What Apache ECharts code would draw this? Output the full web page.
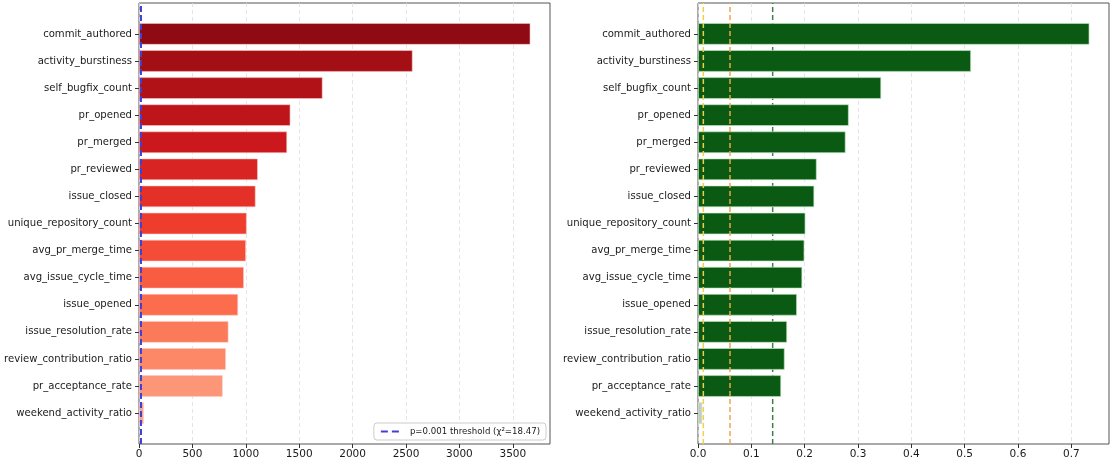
<!DOCTYPE html>
<html>
<head>
<meta charset="utf-8">
<script src="https://cdn.jsdelivr.net/npm/echarts@6/dist/echarts.min.js"></script>
<style>
html,body{margin:0;padding:0;background:#fff;}
#chart{width:1112px;height:463px;}
</style>
</head>
<body>
<div id="chart"></div>
<script>
// ---- data ----
const categories = ['commit_authored','activity_burstiness','self_bugfix_count','pr_opened','pr_merged','pr_reviewed','issue_closed','unique_repository_count','avg_pr_merge_time','avg_issue_cycle_time','issue_opened','issue_resolution_rate','review_contribution_ratio','pr_acceptance_rate','weekend_activity_ratio'];
const chi2Values = [3665, 2562, 1719, 1418, 1387, 1113, 1092, 1009, 1002, 982, 928, 838, 814, 784, 45];
const effectValues = [0.734, 0.512, 0.3435, 0.2827, 0.2768, 0.2226, 0.218, 0.2015, 0.1995, 0.1955, 0.1856, 0.1671, 0.1625, 0.1559, 0.008];
const chi2Threshold = 18.47;
const effectThresholds = [0.01, 0.06, 0.14];
const leftTicks = [0, 500, 1000, 1500, 2000, 2500, 3000, 3500];
const rightTicks = [0, 0.1, 0.2, 0.3, 0.4, 0.5, 0.6, 0.7];
const legendLabel = 'p=0.001 threshold (χ²=18.47)';

// ---- styles ----
const redsStops = ['#fff5f0','#fee0d2','#fcbba1','#fc9272','#fb6a4a','#ef3b2c','#cb181d','#a50f15','#67000d'];
function reds(t){
  const p = t*(redsStops.length-1), i = Math.min(Math.floor(p), redsStops.length-2), f = p-i;
  const a = redsStops[i], b = redsStops[i+1];
  const c = k => Math.round(parseInt(a.substr(k,2),16)*(1-f)+parseInt(b.substr(k,2),16)*f);
  return 'rgb('+c(1)+','+c(3)+','+c(5)+')';
}
const n = categories.length;
const redColors = categories.map((_, i) => reds(0.92 - 0.6*i/(n-1)));
const greenColor = '#0b5a14';
const grayColor = '#c8c8c8';
const thresholdColors = ['#f3cf45', '#eba64a', '#3f7f45'];
const thresholdZ = [5, 5, 1];

const plotTop = 3, plotH = 441, plotW = 411;
const bandH = plotH / (n - 1 + 0.8 + 2*0.05*(n - 1 + 0.8));
const innerTop = plotTop + (0.4 + 0.05*(n-0.2))*bandH - 0.5*bandH;
const innerH = bandH * n;
const panels = [{left:139}, {left:698}];

const leftMax = Math.max(...chi2Values)*1.05;
const rightMax = Math.max(...effectValues)*1.05;

const txt = '#1a1a1a';
function outerX(gi, max, ticks, fmt){
  return {
    type:'value', gridIndex:gi, min:0, max:max,
    axisLine:{show:false},
    axisTick:{show:true, length:4, lineStyle:{color:'#333', width:1}, customValues:ticks},
    axisLabel:{color:txt, fontSize:10.5, fontFamily:'DejaVu Sans', margin:5, customValues:ticks, formatter:fmt},
    splitLine:{show:true, lineStyle:{color:'#dedede', type:[4,3], width:0.8}}
  };
}
function innerX(gi, max){
  return {type:'value', gridIndex:gi, min:0, max:max, show:false, splitLine:{show:false}};
}
function outerY(gi){
  return {type:'value', gridIndex:gi, min:0, max:1, show:false, splitLine:{show:false}};
}
function innerY(gi){
  return {
    type:'category', gridIndex:gi, data:categories, inverse:true,
    axisLine:{show:false},
    axisTick:{show:true, length:4, alignWithLabel:true, lineStyle:{color:'#333', width:1}},
    axisLabel:{color:txt, fontSize:10.1, fontFamily:'DejaVu Sans', margin:7},
    splitLine:{show:false}
  };
}

const option = {
  backgroundColor:'#fff',
  animation:false,
  grid:[
    {left:panels[0].left, top:plotTop, width:plotW, height:plotH, show:true, borderColor:'#555', borderWidth:1, backgroundColor:'transparent'},
    {left:panels[0].left, top:innerTop, width:plotW, height:innerH},
    {left:panels[1].left, top:plotTop, width:plotW, height:plotH, show:true, borderColor:'#555', borderWidth:1, backgroundColor:'transparent'},
    {left:panels[1].left, top:innerTop, width:plotW, height:innerH}
  ],
  xAxis:[
    outerX(0, leftMax, leftTicks, v => String(v)),
    innerX(1, leftMax),
    outerX(2, rightMax, rightTicks, v => v.toFixed(1)),
    innerX(3, rightMax)
  ],
  yAxis:[outerY(0), innerY(1), outerY(2), innerY(3)],
  legend:{
    data:[{name:legendLabel, icon:'path://M0,0L7,0L7,2L0,2ZM11,0L18,0L18,2L11,2Z'}],
    right:566, bottom:23,
    orient:'horizontal',
    itemWidth:18, itemHeight:2, itemGap:4,
    padding:[4,6,4,7],
    backgroundColor:'rgba(255,255,255,0.85)',
    borderColor:'#cccccc', borderWidth:1, borderRadius:3,
    textStyle:{color:txt, fontSize:8.6, fontFamily:'DejaVu Sans', padding:[0,0,0,6]}
  },
  series:[
    {
      type:'bar', xAxisIndex:1, yAxisIndex:1, barWidth:'80%', z:2,
      data: chi2Values.map((v,i) => ({value:v, itemStyle:{color:redColors[i]}})),
      itemStyle:{borderColor:'rgba(255,200,200,0.7)', borderWidth:0.8}
    },
    {
      type:'line', name:legendLabel, xAxisIndex:0, yAxisIndex:0, z:5,
      symbol:'none', showSymbol:false,
      data:[[chi2Threshold,0],[chi2Threshold,1]],
      lineStyle:{color:'#4040d8', width:2, type:[6,3]},
      itemStyle:{color:'#4040d8'}
    },
    {
      type:'bar', xAxisIndex:3, yAxisIndex:3, barWidth:'80%', z:2,
      data: effectValues.map((v,i) => ({value:v, itemStyle:{color: v < effectThresholds[0] ? grayColor : greenColor}})),
      itemStyle:{borderColor:'rgba(190,235,190,0.8)', borderWidth:0.8}
    }
  ].concat(effectThresholds.map((t,k) => ({
      type:'line', xAxisIndex:2, yAxisIndex:2, z:thresholdZ[k],
      symbol:'none', showSymbol:false,
      data:[[t,0],[t,1]],
      lineStyle:{color:thresholdColors[k], width:1.5, type:[5,3]}
  })))
};

const chart = echarts.init(document.getElementById('chart'), null, {renderer:'canvas'});
chart.setOption(option);
</script>
</body>
</html>
